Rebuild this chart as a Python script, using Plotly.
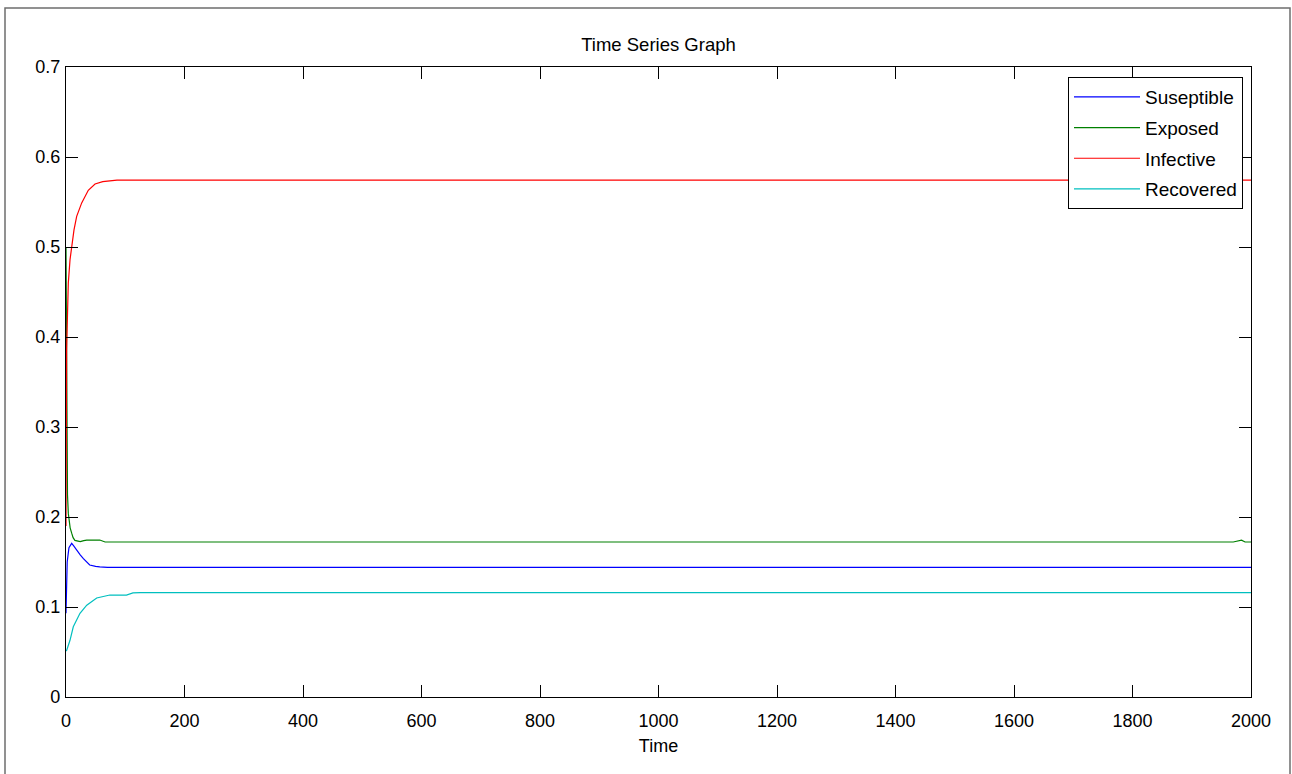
import plotly.graph_objects as go

# ---- data ----
t_s = [0, 2, 5, 9.6, 13, 18, 24, 29, 35, 40, 50, 57, 70, 2000]
susceptible = [0.093, 0.150, 0.166, 0.1707, 0.168, 0.163, 0.158, 0.154, 0.150, 0.1467, 0.1452, 0.1445, 0.1441, 0.1441]

t_e = [0, 0.5, 1.2, 2.5, 3.9, 5, 7, 9.6, 12, 15, 19, 24, 30, 35, 57, 62, 66, 1970, 1980, 1984, 1990, 2000]
exposed = [0.50, 0.40, 0.25, 0.225, 0.204, 0.197, 0.188, 0.182, 0.177, 0.174, 0.173, 0.1726, 0.1738, 0.1744,
           0.1744, 0.1735, 0.1722, 0.1722, 0.1735, 0.1742, 0.1722, 0.1722]

t_i = [0, 1, 3.9, 6.8, 13.5, 18, 26.5, 37.6, 49, 62, 86, 2000]
infective = [0.19, 0.386, 0.46, 0.486, 0.519, 0.534, 0.549, 0.563, 0.570, 0.5726, 0.5744, 0.5744]

t_r = [0, 1.2, 6.75, 12.3, 23.6, 35, 51.8, 74, 102, 108, 113, 125, 2000]
recovered = [0.051, 0.052, 0.063, 0.078, 0.093, 0.102, 0.110, 0.1133, 0.1133, 0.1145, 0.1156, 0.1159, 0.1159]

series_names = ["Suseptible", "Exposed", "Infective", "Recovered"]
series_colors = ["rgb(0,0,255)", "rgb(0,128,0)", "rgb(255,0,0)", "rgb(0,191,191)"]
x_ticks = [0, 200, 400, 600, 800, 1000, 1200, 1400, 1600, 1800, 2000]
y_ticks = [0, 0.1, 0.2, 0.3, 0.4, 0.5, 0.6, 0.7]

FONT = "Arial, Liberation Sans, Helvetica, sans-serif"

fig = go.Figure()
for i, (tx, vy) in enumerate([(t_s, susceptible), (t_e, exposed), (t_i, infective), (t_r, recovered)]):
    fig.add_trace(go.Scatter(
        x=tx, y=vy, mode="lines", name=series_names[i],
        line=dict(color=series_colors[i], width=1.2),
        legendgroup=f"g{i}",
    ))

axis_common = dict(
    showline=True, linecolor="black", linewidth=1.2, mirror="ticks",
    ticks="inside", ticklen=12, tickwidth=1, tickcolor="black",
    showgrid=False, zeroline=False,
    tickfont=dict(family=FONT, size=18, color="black"),
)

W, H = 1292, 774
L, R, T, B = 66, 41, 67, 77
PW, PH = W - L - R, H - T - B

fig.update_layout(
    width=W, height=H,
    margin=dict(l=L, r=R, t=T, b=B),
    paper_bgcolor="white", plot_bgcolor="white",
    font=dict(family=FONT, color="black"),
    title=dict(text="Time Series Graph", x=(L + PW / 2) / W, xref="container", xanchor="center",
               y=1 - 45 / H, yref="container", yanchor="middle",
               font=dict(family=FONT, size=18.5, color="black")),
    xaxis=dict(range=[0, 2000], tickvals=x_ticks, ticklabelstandoff=7,
               title=dict(text="Time", font=dict(family=FONT, size=18, color="black"), standoff=9),
               **axis_common),
    yaxis=dict(range=[0, 0.7], tickvals=y_ticks, ticklabelstandoff=1, **axis_common),
    legend=dict(x=(1243 - L) / PW, y=(697 - 77) / PH, xanchor="right", yanchor="top",
                bgcolor="white", bordercolor="black", borderwidth=1,
                font=dict(family=FONT, size=19, color="black"),
                tracegroupgap=3, itemwidth=66),
    showlegend=True,
)

# outer figure frame
fig.add_shape(type="rect", xref="paper", yref="paper",
              x0=(5 - L) / PW, x1=(1290 - L) / PW,
              y0=(697 - 790) / PH, y1=(697 - 8) / PH,
              line=dict(color="rgb(110,110,110)", width=1.5), layer="below")

fig.write_html("out.html", config={"displayModeBar": False},
               post_script="document.body.style.margin='0';")
